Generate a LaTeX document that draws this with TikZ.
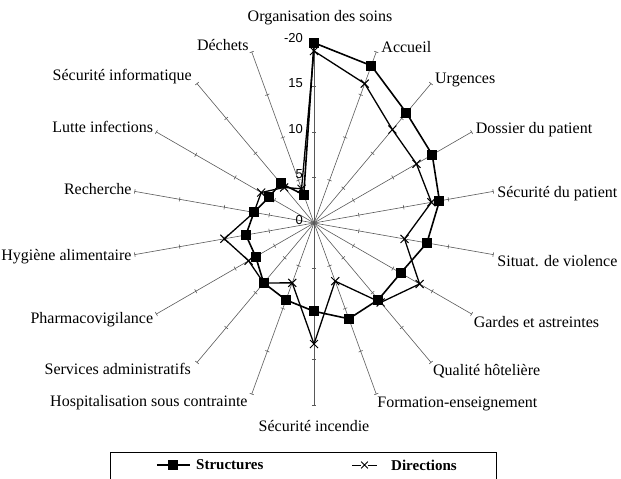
\documentclass[tikz,border=0pt]{standalone}
\usepackage{fontspec}
\setmainfont{Liberation Serif}
\newfontfamily\ticknumfont{Liberation Sans}
\usetikzlibrary{positioning,calc,shapes.misc}
\tikzset{
    axisline/.style={draw=black!65, line width=0.6pt},
    axislabel/.style={font=\fontsize{16}{18}\selectfont, inner sep=0pt},
    ticklabel/.style={font=\ticknumfont\fontsize{13}{15}\selectfont, inner sep=0pt, anchor=east},
    structline/.style={draw=black, line width=1.6pt, line join=round},
    dirline/.style={draw=black, line width=1.3pt, line join=round},
    structmark/.style={rectangle, fill=black, minimum size=10pt, inner sep=0pt},
    dirmark/.style={cross out, draw=black, line width=1pt, minimum size=7pt, inner sep=0pt}
}

\begin{document}
\begin{tikzpicture}[x=1pt, y=1pt]
    \useasboundingbox (-314,-256) rectangle (307,223);
    \def\R{182}
    \def\u{9.1}

    % --- CENTRE ---
    \node[circle, fill=black, minimum size=3pt, inner sep=0pt] (c) at (0,0) {};

    % --- AXES, GRADUATIONS ET LIBELLES ---
    \foreach \i/\lab/\anc/\dx/\dy in {
        0/Organisation des soins/center/6/23,
        1/Accueil/west/5/5,
        2/Urgences/west/4/4,
        3/Dossier du patient/west/4/2,
        4/Sécurité du patient/west/4/-2,
        5/Situat. de violence/west/4/-6,
        6/Gardes et astreintes/west/2/-8,
        7/Qualité hôtelière/west/2/-9,
        8/Formation-enseignement/west/1/-10,
        9/Sécurité incendie/north/0/-15,
        10/Hospitalisation sous contrainte/east/-4/-9,
        11/Services administratifs/east/-6/-7,
        12/Pharmacovigilance/east/-3/-6,
        13/Hygiène alimentaire/east/-3/-2,
        14/Recherche/east/-3/2,
        15/Lutte infections/east/-3/5,
        16/Sécurité informatique/east/-5/7,
        17/Déchets/east/-3/7} {
        \coordinate (a\i) at ({90-20*\i}:\R);
        \draw[axisline] (c.center) -- (a\i);
        \foreach \t in {5,10,15,20} {
            \draw[axisline] ({90-20*\i}:{\t*\u}) ++({-20*\i}:2.2) -- ++({180-20*\i}:4.4);
        }
        \node[axislabel, anchor=\anc] (l\i) at ($(a\i)+(\dx,\dy)$) {\lab};
    }

    % --- ECHELLE ---
    \foreach \t/\txt in {0/0, 5/5, 10/10, 15/15, 20/-20} {
        \node[ticklabel] (t\t) at (-11,{\t*\u+3}) {\txt};
    }

    % --- VALEURS (structures / directions) ---
    \foreach \i/\sv/\dv in {0/19.8/18.9, 1/18.4/16.3, 2/15.8/13.4, 3/15.0/13.0,
        4/14.0/13.1, 5/12.6/10.1, 6/11.0/13.4, 7/11.0/11.4, 8/11.2/6.8,
        9/9.7/13.3, 10/9.0/7.0, 11/8.6/8.6, 12/7.4/8.3, 13/7.6/10.0,
        14/6.7/6.7, 15/5.7/6.7, 16/5.7/5.1, 17/3.3/4.0} {
        \coordinate (s\i) at ({90-20*\i}:{\sv*\u});
        \coordinate (d\i) at ({90-20*\i}:{\dv*\u});
    }
    \draw[dirline] (d0) \foreach \i in {1,...,17} {-- (d\i)} -- cycle;
    \draw[structline] (s0) \foreach \i in {1,...,17} {-- (s\i)} -- cycle;
    \foreach \i in {0,...,17} {
        \node[structmark] (ms\i) at (s\i) {};
        \node[dirmark] (md\i) at (d\i) {};
    }

    % --- LEGENDE ---
    \draw[line width=0.8pt] (-204,-258) -- (-204,-229) -- (182,-229) -- (182,-258);
    \coordinate (ks1) at (-157,-242);
    \coordinate (ks2) at (-124,-242);
    \draw[line width=1.2pt] (ks1) -- (ks2);
    \node[structmark] (ks) at ($(ks1)!0.5!(ks2)$) {};
    \node[font=\bfseries\fontsize{15}{18}\selectfont, anchor=west, inner sep=0pt] (kst) at (-118,-242) {Structures};
    \coordinate (kd1) at (38,-242);
    \coordinate (kd2) at (63,-242);
    \draw[line width=1pt] (kd1) -- ($(kd1)!0.35!(kd2)$);
    \draw[line width=1pt] ($(kd1)!0.65!(kd2)$) -- (kd2);
    \node[dirmark, minimum size=6pt, line width=0.8pt] (kd) at ($(kd1)!0.5!(kd2)$) {};
    \node[font=\bfseries\fontsize{15}{18}\selectfont, anchor=west, inner sep=0pt] (kdt) at (77,-242) {Directions};

\end{tikzpicture}
\end{document}
